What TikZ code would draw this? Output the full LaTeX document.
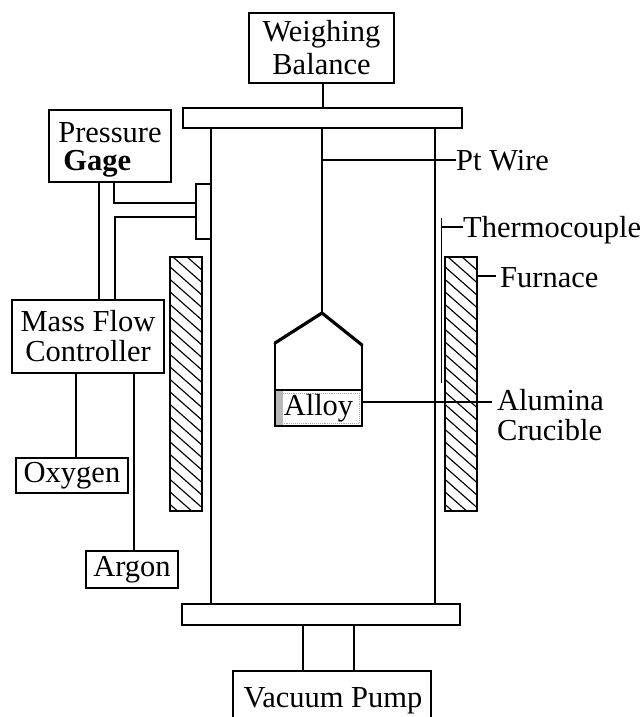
\documentclass[tikz,border=0pt]{standalone}
\usepackage{fontspec}
\setmainfont{Liberation Serif}
\usetikzlibrary{calc}
\tikzset{
  box/.style={draw,line width=1.6pt,inner sep=0pt,align=center,font=\fontsize{30.5}{32}\selectfont},
  flange/.style={draw,line width=1.6pt,inner sep=0pt},
  lbl/.style={inner sep=0pt,anchor=base west,font=\fontsize{30.5}{32}\selectfont},
  pipe/.style={line width=1.6pt},
  thin line/.style={line width=1.3pt},
  hatchline/.style={line width=1.15pt}
}
\newcommand{\boxat}[7]{\node[box,minimum width=#3 pt-#1 pt,minimum height=#4 pt-#2 pt,#5] (#6) at ({(#1+#3)/2},{(#2+#4)/2}) {#7};}
\begin{document}
\begin{tikzpicture}[x=1pt,y=-1pt]
\useasboundingbox (0,0) rectangle (643,717);
% hatching of the furnace walls
\begin{scope}
  \clip (170,257) rectangle (202,511);
  \foreach \k in {0,...,23} {\draw[hatchline] (165,{225+12.5*\k}) -- (207,{262+12.5*\k});}
\end{scope}
\begin{scope}
  \clip (445,257) rectangle (477,511);
  \foreach \k in {0,...,23} {\draw[hatchline] (440,{225+12.5*\k}) -- (482,{262+12.5*\k});}
\end{scope}
% shaded part of the crucible
\fill[gray!55] (276,391) rectangle (283,425);
\draw[gray!70,line width=0.9pt,densely dotted] (283,393) -- (359,393) -- (359,423) -- (283,423);
% boxes
\boxat{249}{13}{394}{83}{font=\fontsize{30.5}{33}\selectfont}{bal}{Weighing\\Balance}
\boxat{183}{108}{462}{128}{}{topf}{}
\boxat{182}{604}{460}{625}{}{botf}{}
\boxat{49}{110}{171}{182}{align=left,font=\fontsize{30.5}{28}\selectfont}{gage}{\rule{0pt}{27pt}Pressure\\\hspace*{5pt}\textbf{Gage}}
\boxat{12}{300}{164}{373}{font=\fontsize{30.5}{30}\selectfont}{mfc}{Mass Flow\\Controller}
\boxat{16}{458}{128}{493}{}{oxy}{Oxygen}
\boxat{86}{551}{178}{588}{}{arg}{Argon}
\boxat{196}{184}{211}{239}{}{port}{}
\boxat{170}{257}{202}{511}{}{fl}{}
\boxat{445}{257}{477}{511}{}{fr}{}
\node[draw,line width=1.6pt,inner sep=0pt,outer sep=0pt,minimum width=87pt,minimum height=36pt,font=\fontsize{30.5}{32}\selectfont] (cru) at (318.5,408) {Alloy};
% vacuum pump: box cut by the picture's lower edge
\node[inner sep=0pt,anchor=base,font=\fontsize{30.5}{32}\selectfont] (vac) at (333,707) {Vacuum Pump};
\coordinate (vtl) at (233,671);\coordinate (vtr) at (431,671);
\coordinate (vbl) at (233,717);\coordinate (vbr) at (431,717);
\draw[pipe] (vbl) -- (vtl) -- (vtr) -- (vbr);
% labels
\node[lbl] (pt) at (456,170) {Pt Wire};
\node[lbl] (tc) at (463,237) {Thermocouple};
\node[lbl] (fu) at (500,287) {Furnace};
\node[lbl] (al) at (497,410) {Alumina};
\node[lbl] (cr) at (497,440) {Crucible};
% named points
\coordinate (apex) at (322,313);
\coordinate (hl) at (cru.west |- 0,343);
\coordinate (hr) at (cru.east |- 0,345);
\coordinate (tct) at (441.5,218);
\coordinate (tcb) at (441.5,383);
% vessel
\draw[pipe] (211,128) -- (211,604);
\draw[pipe] (435,128) -- (435,604);
% balance and wire
\draw[pipe] (bal.south -| 323,0) -- (topf.north -| 323,0);
\draw[pipe] (topf.south -| apex) -- (apex);
\draw[line width=3.2pt,line join=miter,line cap=round] (hl) -- (apex) -- (hr);
\draw[pipe] (hl) -- (cru.north west);
\draw[pipe] (hr) -- (cru.north east);
% label leaders
\draw[thin line] (322,160) -- (pt.west |- 0,160);
\draw[line width=1.9pt] (tct) -- (tcb);
\draw[thin line] (441.5,227) -- (tc.west |- 0,227);
\draw[thin line] (fr.east |- 0,276) -- (496,276);
\draw[thin line] (cru.east |- 0,402) -- (492,402);
% gas lines
\draw[pipe] (gage.south -| 99,0) -- (mfc.north -| 99,0);
\draw[pipe] (gage.south -| 114,0) -- (114,203) -- (port.west |- 0,203);
\draw[pipe] (port.west |- 0,217) -- (115,217) -- (mfc.north -| 115,0);
\draw[pipe] (mfc.south -| 76,0) -- (oxy.north -| 76,0);
\draw[pipe] (mfc.south -| 134,0) -- (arg.north -| 134,0);
% vacuum line
\draw[pipe] (botf.south -| 303,0) -- (vtl -| 303,0);
\draw[pipe] (botf.south -| 354,0) -- (vtl -| 354,0);
\end{tikzpicture}
\end{document}
